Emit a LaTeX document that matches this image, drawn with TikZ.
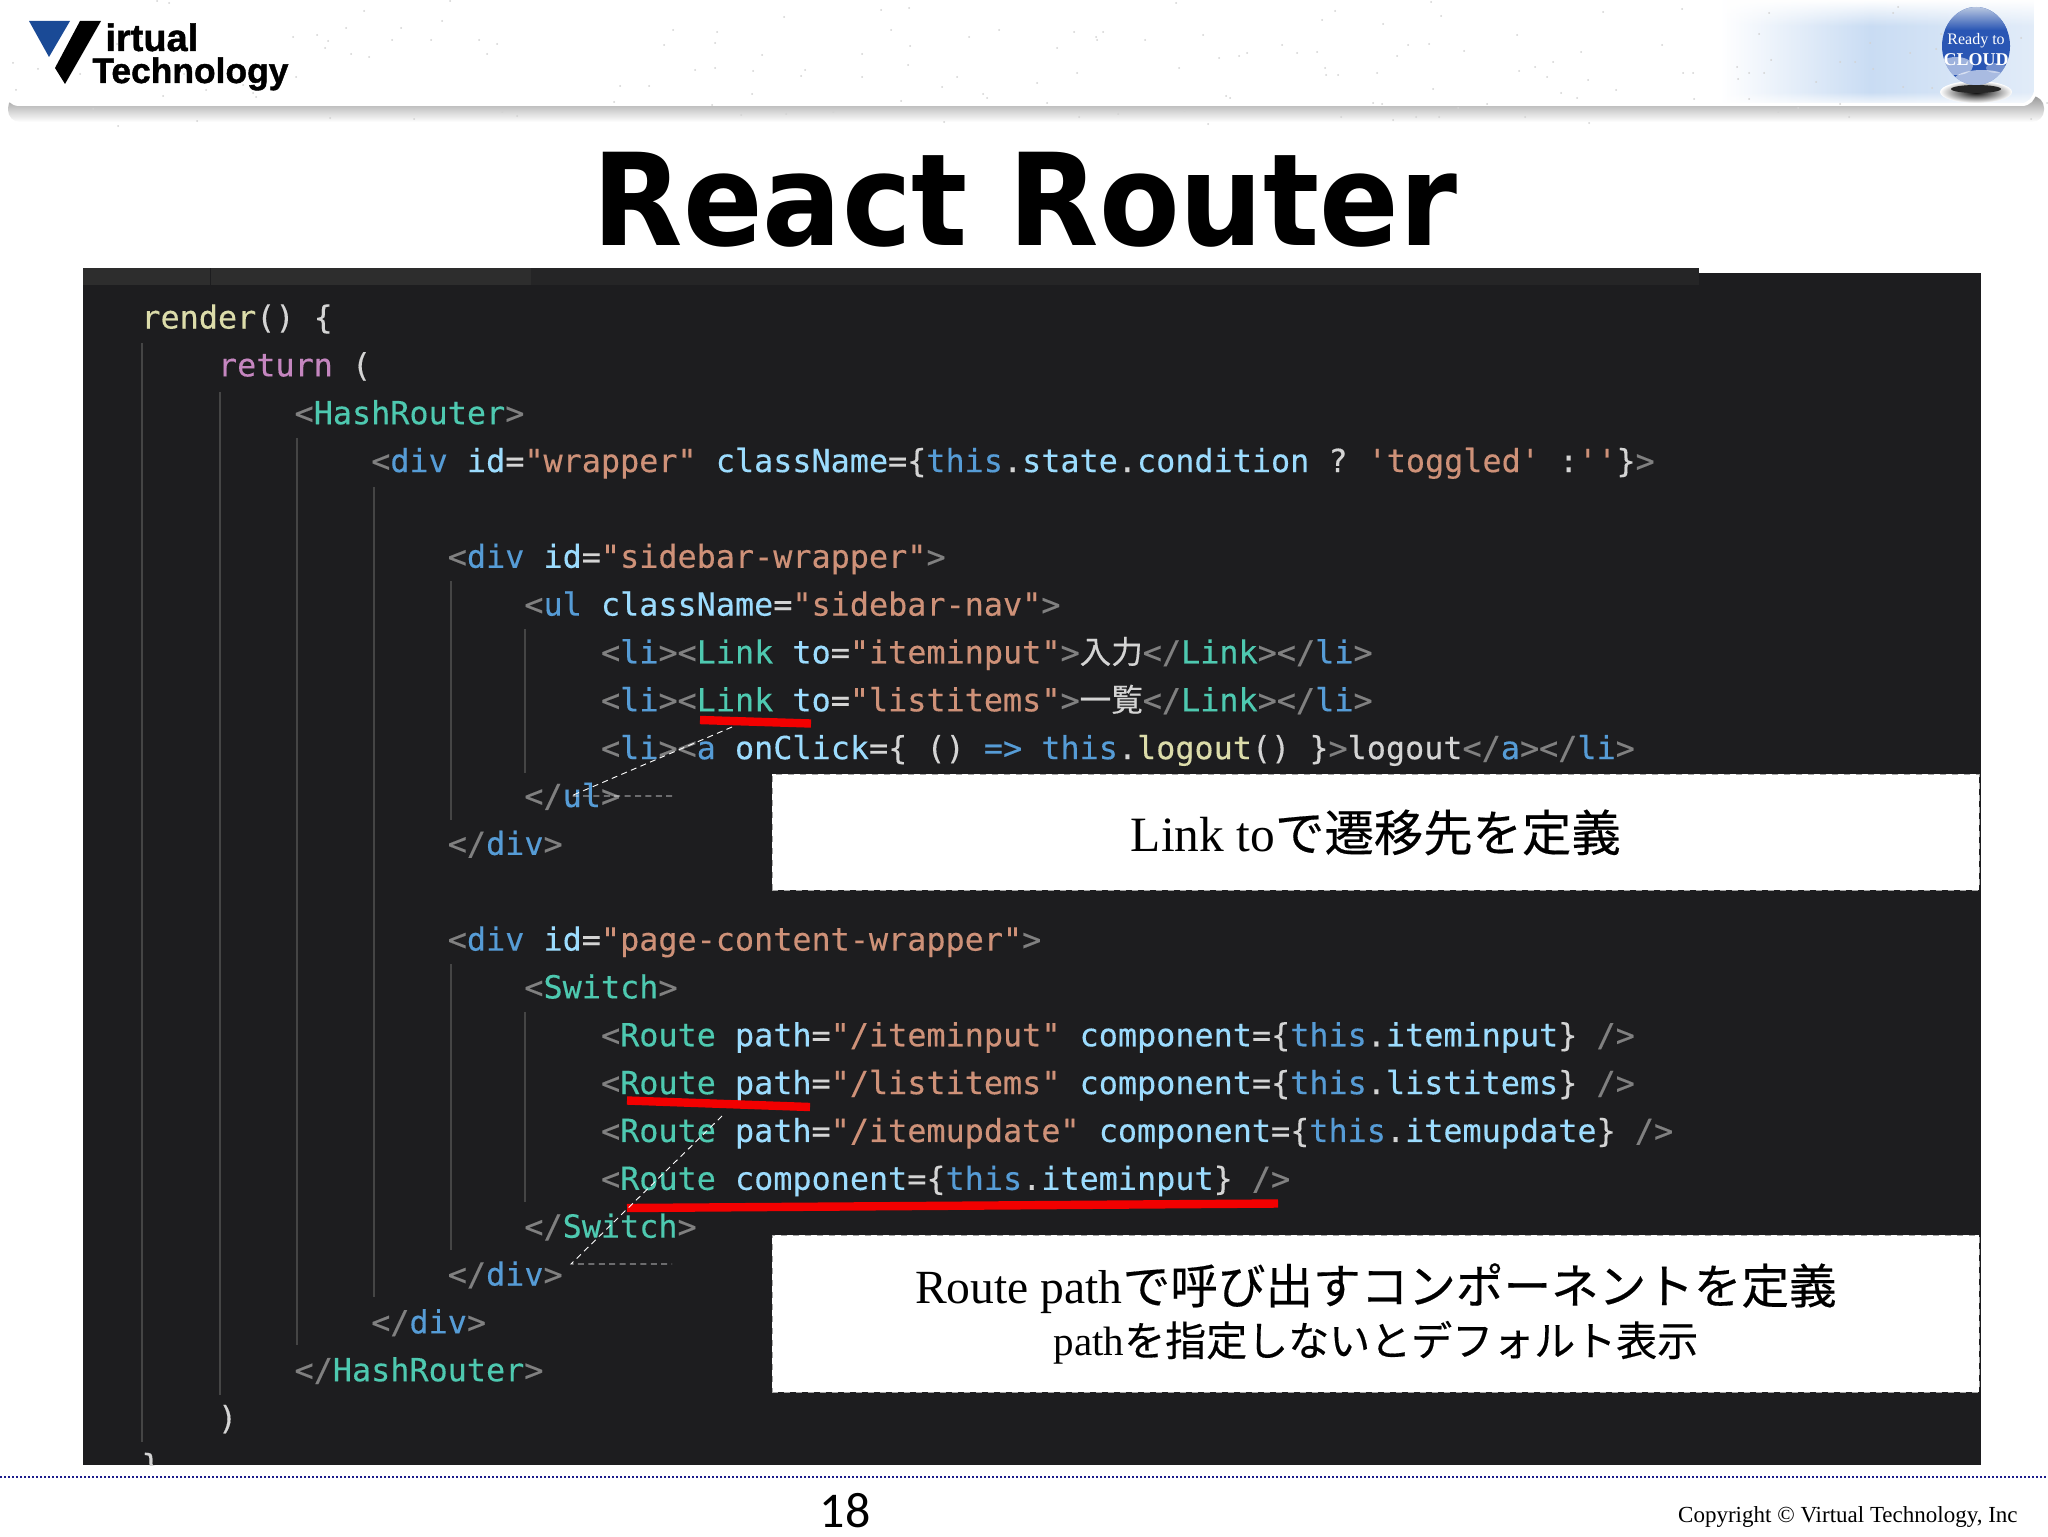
\documentclass[tikz,border=0pt]{standalone}
\usepackage{fontspec}
\usetikzlibrary{fadings}
\setmainfont{Liberation Serif}
\newfontfamily\codefont[FakeBold=0.3]{DejaVu Sans Mono}
\newfontfamily\jpfont[FakeBold=0.35]{Noto Sans CJK JP}
\newfontfamily\logofont[FakeBold=1.2]{Liberation Sans Bold}
\newfontfamily\pagefont{Carlito}
\newfontfamily\titlefont[FakeStretch=0.918]{DejaVu Sans Bold}
\definecolor{codebg}{HTML}{1D1D1F}
\definecolor{tabbar}{HTML}{252526}
\definecolor{tabcol}{HTML}{2D2D2D}
\definecolor{guidecol}{HTML}{454545}
\definecolor{kgray}{HTML}{808080}
\definecolor{kblue}{HTML}{569CD6}
\definecolor{kteal}{HTML}{4EC9B0}
\definecolor{ksky}{HTML}{9CDCFE}
\definecolor{kstr}{HTML}{CE9178}
\definecolor{kplain}{HTML}{D4D4D4}
\definecolor{kfunc}{HTML}{DCDCAA}
\definecolor{kkey}{HTML}{C586C0}
\definecolor{logoblue}{HTML}{1A4A96}
\definecolor{bannerblue}{HTML}{C9DCF3}
\definecolor{ballblue}{HTML}{2A56B4}
\definecolor{ballhigh}{HTML}{C4D0E4}
\definecolor{dotnavy}{HTML}{1C1C8C}
\newcommand{\tkgray}[1]{\textcolor{kgray}{#1}}
\newcommand{\tkblue}[1]{\textcolor{kblue}{#1}}
\newcommand{\tkteal}[1]{\textcolor{kteal}{#1}}
\newcommand{\tksky}[1]{\textcolor{ksky}{#1}}
\newcommand{\tkstr}[1]{\textcolor{kstr}{#1}}
\newcommand{\tkplain}[1]{\textcolor{kplain}{#1}}
\newcommand{\tkfunc}[1]{\textcolor{kfunc}{#1}}
\newcommand{\tkkey}[1]{\textcolor{kkey}{#1}}
\newcommand{\jp}[1]{{\jpfont #1}}
\tikzset{
    codeline/.style={anchor=base west, inner sep=0pt, font=\codefont\fontsize{15.9}{18}\selectfont},
    guideline/.style={guidecol, line width=0.7pt},
    redmark/.style={red!95!black, line width=4.2pt},
    leader/.style={white, line width=0.45pt, dash pattern=on 3pt off 2.2pt},
    calloutbox/.style={fill=white, draw=gray!70, dashed, line width=0.4pt, anchor=north west, align=center, inner sep=0pt}
}
\begin{document}
\begin{tikzpicture}[x=0.5pt,y=-0.5pt]
    \useasboundingbox (0,0) rectangle (2048,1536);

    % Cabecera
    \shade[top color=gray!80, bottom color=white, rounded corners=6pt] (8,96) rectangle (2044,122);
    \fill[white, rounded corners=7pt] (5,-20) rectangle (2036,106);
    \begin{scope}
        \clip[rounded corners=7pt] (1600,-20) rectangle (2034,103);
        \shade[left color=white, right color=bannerblue] (1720,-20) rectangle (1870,103);
        \shade[left color=bannerblue, right color=bannerblue!55!white] (1870,-20) rectangle (2034,103);
        \fill[white, path fading=south] (1720,0) rectangle (2036,26);
        \fill[white, path fading=north, opacity=0.8] (1720,92) rectangle (2034,104);
    \end{scope}
    \pgfmathsetseed{7}
    \foreach \i in {1,...,170} {
        \fill[gray!35] ({random(0,2048)},{random(0,126)}) circle (1);
    }

    % Logo
    \fill[logoblue] (29,21) -- (70,21) -- (49,57) -- cycle;
    \fill[black] (80,21) -- (101,21) -- (65,84) -- (55,68) -- cycle;
    \node[anchor=base west, inner sep=0pt, font=\logofont\fontsize{19}{20}\selectfont] (logoirtual) at (105,51) {irtual};
    \node[anchor=base west, inner sep=0pt, font=\logofont\fontsize{17.7}{20}\selectfont] (logotech) at (92,83) {Technology};

    % Globo
    \shade[inner color=black, outer color=white] (1976,92) ellipse [x radius=36, y radius=11];
    \fill[black!85] (1976,89) ellipse [x radius=25, y radius=4];
    \begin{scope}
        \clip (1976,46) ellipse [x radius=34, y radius=39];
        \fill[ballblue] (1940,5) rectangle (2012,86);
        \shade[top color=ballhigh, bottom color=ballblue] (1940,5) rectangle (2012,30);
        \fill[white, opacity=0.55] (1956,66) ellipse [x radius=17, y radius=9];
        \fill[white, opacity=0.6] (1982,80) ellipse [x radius=28, y radius=10];
        \fill[white, opacity=0.35] (1996,68) ellipse [x radius=10, y radius=5];
    \end{scope}
    \node[white, inner sep=0pt, anchor=base, font=\fontsize{8}{9}\selectfont] (ballready) at (1976,45) {Ready to};
    \node[white, inner sep=0pt, anchor=base, font=\bfseries\fontsize{9}{10}\selectfont] (ballcloud) at (1976,66) {CLOUD};

    % Titulo
    \node[anchor=base, inner sep=0pt, font=\titlefont\fontsize{64}{70}\selectfont] (title) at (1025,245) {React Router};

    % Panel de codigo
    \fill[codebg] (83,273) rectangle (1981,1465);
    \fill[tabbar] (83,268) rectangle (1699,285);
    \fill[tabcol] (83,268) rectangle (531,285);
    \draw[codebg, line width=0.5pt] (210,268) -- (210,285);

    % Guias de sangria
    \foreach \x/\ya/\yb in {
        142/343/1442,
        220/392/1395,
        297/438/1345,
        374/487/1297,
        451/581/820,
        451/964/1250,
        525/629/773,
        525/1012/1202
    } {
        \draw[guideline] (\x,\ya) -- (\x,\yb);
    }

    % Lineas de codigo
    \begin{scope}
        \clip (83,268) rectangle (1981,1465);
        \foreach \n/\ind/\code in {
            0/0/{\tkfunc{render}\tkplain{() \{}},
            1/4/{\tkkey{return} \tkplain{(}},
            2/8/{\tkgray{<}\tkteal{HashRouter}\tkgray{>}},
            3/12/{\tkgray{<}\tkblue{div} \tksky{id}\tkplain{=}\tkstr{"wrapper"} \tksky{className}\tkplain{=\{}\tkblue{this}\tkplain{.}\tksky{state}\tkplain{.}\tksky{condition} \tkplain{?}\hspace*{10pt}\tkstr{'toggled'} \tkplain{:}\tkstr{''}\tkplain{\}}\tkgray{>}},
            5/16/{\tkgray{<}\tkblue{div} \tksky{id}\tkplain{=}\tkstr{"sidebar-wrapper"}\tkgray{>}},
            6/20/{\tkgray{<}\tkblue{ul} \tksky{className}\tkplain{=}\tkstr{"sidebar-nav"}\tkgray{>}},
            7/24/{\tkgray{<}\tkblue{li}\tkgray{><}\tkteal{Link} \tksky{to}\tkplain{=}\tkstr{"iteminput"}\tkgray{>}\tkplain{\fontsize{15.8}{18}\selectfont\jp{入力}}\tkgray{</}\tkteal{Link}\tkgray{></}\tkblue{li}\tkgray{>}},
            8/24/{\tkgray{<}\tkblue{li}\tkgray{><}\tkteal{Link} \tksky{to}\tkplain{=}\tkstr{"listitems"}\tkgray{>}\tkplain{\fontsize{15.8}{18}\selectfont\jp{一覧}}\tkgray{</}\tkteal{Link}\tkgray{></}\tkblue{li}\tkgray{>}},
            9/24/{\tkgray{<}\tkblue{li}\tkgray{><}\tkblue{a} \tksky{onClick}\tkplain{=\{ () }\tkblue{=>} \tkblue{this}\tkplain{.}\tkfunc{logout}\tkplain{() \}}\tkgray{>}\tkplain{logout}\tkgray{</}\tkblue{a}\tkgray{></}\tkblue{li}\tkgray{>}},
            10/20/{\tkgray{</}\tkblue{ul}\tkgray{>}},
            11/16/{\tkgray{</}\tkblue{div}\tkgray{>}},
            13/16/{\tkgray{<}\tkblue{div} \tksky{id}\tkplain{=}\tkstr{"page-content-wrapper"}\tkgray{>}},
            14/20/{\tkgray{<}\tkteal{Switch}\tkgray{>}},
            15/24/{\tkgray{<}\tkteal{Route} \tksky{path}\tkplain{=}\tkstr{"/iteminput"} \tksky{component}\tkplain{=\{}\tkblue{this}\tkplain{.}\tksky{iteminput}\tkplain{\}} \tkgray{/>}},
            16/24/{\tkgray{<}\tkteal{Route} \tksky{path}\tkplain{=}\tkstr{"/listitems"} \tksky{component}\tkplain{=\{}\tkblue{this}\tkplain{.}\tksky{listitems}\tkplain{\}} \tkgray{/>}},
            17/24/{\tkgray{<}\tkteal{Route} \tksky{path}\tkplain{=}\tkstr{"/itemupdate"} \tksky{component}\tkplain{=\{}\tkblue{this}\tkplain{.}\tksky{itemupdate}\tkplain{\}} \tkgray{/>}},
            18/24/{\tkgray{<}\tkteal{Route} \tksky{component}\tkplain{=\{}\tkblue{this}\tkplain{.}\tksky{iteminput}\tkplain{\}} \tkgray{/>}},
            19/20/{\tkgray{</}\tkteal{Switch}\tkgray{>}},
            20/16/{\tkgray{</}\tkblue{div}\tkgray{>}},
            21/12/{\tkgray{</}\tkblue{div}\tkgray{>}},
            22/8/{\tkgray{</}\tkteal{HashRouter}\tkgray{>}},
            23/4/{\tkplain{)}},
            24/0/{\tkplain{\}}}
        } {
            \node[codeline] (line\n) at ({141+\ind*19.15},{328.5+\n*47.85}) {\code};
        }
    \end{scope}

    % Subrayados
    \coordinate (linkmarka) at (700,720);
    \coordinate (linkmarkb) at (811,723.5);
    \coordinate (pathmarka) at (627,1100.5);
    \coordinate (pathmarkb) at (810,1107);
    \coordinate (routemarka) at (627,1208);
    \coordinate (routemarkb) at (1278,1203.5);
    \draw[redmark] (linkmarka) -- (linkmarkb);
    \draw[redmark] (pathmarka) -- (pathmarkb);
    \draw[redmark] (routemarka) -- (routemarkb);

    % Lineas guia
    \coordinate (linktip) at (732,727);
    \coordinate (linkbend) at (571,796);
    \coordinate (linkfree) at (673,796);
    \coordinate (routetip) at (722,1116);
    \coordinate (routebend) at (571,1264);
    \coordinate (routefree) at (672,1264);
    \draw[leader] (linktip) -- (linkbend) -- (linkfree);
    \draw[leader] (routetip) -- (routebend) -- (routefree);

    % Cuadros de texto
    \node[calloutbox, minimum width=603.5pt, minimum height=58pt, font=\fontsize{24.7}{28}\selectfont] (linkbox) at (772,774) {\raisebox{-2pt}{Link to\jp{で遷移先を定義}}};
    \node[calloutbox, minimum width=603.5pt, minimum height=78.5pt, font=\fontsize{23.8}{28}\selectfont] (routebox) at (772,1235) {\raisebox{-11pt}{Route path\jp{で呼び出すコンポーネントを定義}}\\[3.5pt]\fontsize{20.5}{28}\selectfont \raisebox{-5.6pt}{path\jp{を指定しないとデフォルト表示}}};

    % Pie de pagina
    \coordinate (footleft) at (0,1477);
    \coordinate (footright) at (2048,1477);
    \draw[dotnavy, line width=1pt, dash pattern=on 1pt off 1pt] (footleft) -- (footright);
    \node[anchor=base, inner sep=0pt, font=\pagefont\fontsize{25}{28}\selectfont] (pagenum) at (845,1527) {18};
    \node[anchor=base east, inner sep=0pt, font=\fontsize{11.5}{13}\selectfont] (copyright) at (2018,1522) {Copyright © Virtual Technology, Inc};
\end{tikzpicture}
\end{document}
